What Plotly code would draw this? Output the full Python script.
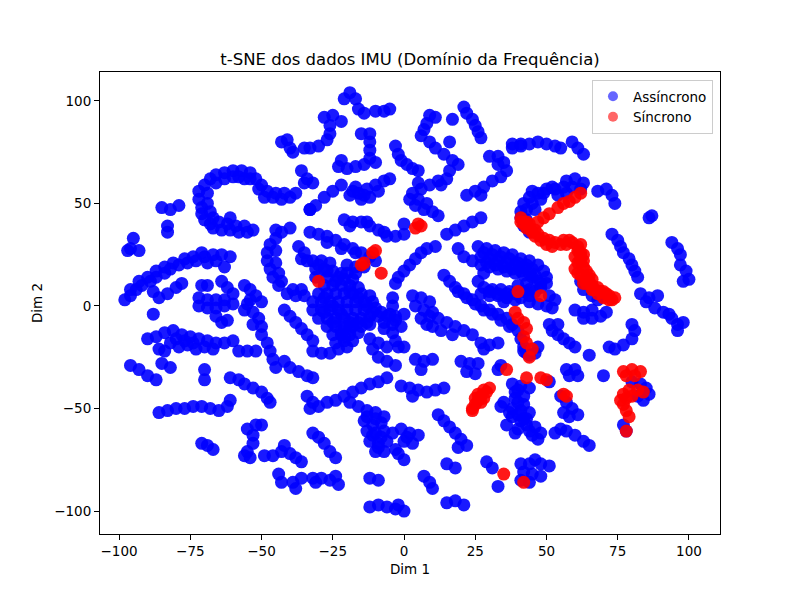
import plotly.graph_objects as go

# t-SNE coordinates, grouped by region (Dim 1, Dim 2)
assinc_noroeste = [
    (-43, 80), (-41, 81), (-40, 77), (-39, 75), (-35, 77), (-33, 77),
    (-36, 66), (-34, 62), (-32, 60), (-35, 60),
    (-72, 56), (-72, 52), (-71, 48), (-71, 45), (-70, 42), (-68, 40), (-67, 38), (-64, 37),
    (-61, 37), (-58, 36), (-55, 36), (-53, 37), (-68, 62), (-70, 59), (-66, 64), (-63, 65),
    (-60, 66), (-57, 66), (-54, 65), (-52, 62), (-50, 59), (-48, 56), (-46, 53), (-43, 52),
    (-40, 53), (-38, 55), (-61, 43), (-60, 63), (-56, 62),
    (-85, 48), (-82, 47), (-79, 49), (-83, 39), (-83, 36),
    (-95, 33), (-96, 28), (-93, 27), (-97, 27),
    (-98, 3), (-96, 5), (-94, 8), (-92, 10), (-89, 12), (-87, 14), (-84, 16), (-82, 18),
    (-79, 20), (-76, 21), (-73, 22), (-70, 24), (-67, 25), (-64, 25), (-61, 24), (-63, 19),
    (-88, 7), (-86, 4), (-83, 6), (-80, 9), (-78, 11), (-71, 10), (-69, 10),
    (-64, 12), (-62, 9), (-60, 6), (-63, 3), (-56, 10), (-54, 8), (-52, 5), (-50, 2), (-54, 3),
    (-40, 38), (-43, 36), (-45, 33), (-47, 30), (-48, 26), (-48, 22), (-47, 18), (-46, 14),
    (-44, 10), (-41, 6), (-38, 5), (-35, 5), (-37, 29), (-35, 26), (-34, 22), (-36, 23),
    (-33, 47),
]

assinc_norte = [
    (-21, 101), (-19, 104), (-17, 101), (-16, 96), (-14, 94), (-10, 95), (-7, 95), (-5, 96),
    (-28, 92), (-25, 93), (-22, 90), (-26, 88), (-26, 84), (-27, 81), (-30, 78),
    (-15, 84), (-12, 84), (-12, 80), (-12, 76), (-12, 72), (-10, 70), (-14, 69), (-17, 68),
    (-20, 67), (-23, 68), (-22, 71),
    (-3, 78), (-2, 74), (-1, 71), (1, 69), (3, 67), (5, 66),
    (9, 93), (8, 89), (7, 86), (6, 83), (11, 92), (17, 91),
    (21, 97), (22, 94), (24, 91), (25, 88), (26, 85), (27, 82),
    (9, 80), (11, 77), (14, 74), (17, 71), (19, 69), (16, 66), (16, 80),
    (30, 73), (33, 73), (35, 70), (36, 66), (34, 63), (31, 61), (28, 58), (33, 69),
    (38, 77), (41, 78),
    (-22, 59), (-25, 56), (-28, 53), (-31, 49), (-33, 47),
    (-19, 54), (-16, 55), (-13, 57), (-10, 59), (-7, 61), (-5, 62), (-15, 52), (-12, 53), (-17, 58),
    (15, 62), (12, 61), (9, 59), (6, 57), (3, 55), (2, 52), (4, 49), (7, 47), (10, 46), (12, 44),
    (22, 54), (25, 56), (27, 54),
    (-21, 42), (-18, 41), (-15, 41), (-12, 39), (-9, 37), (-6, 34), (-3, 34), (0, 35), (0, 40),
    (15, 35), (18, 37), (21, 39), (24, 41), (27, 43),
    (-33, 36), (-30, 35), (-27, 34), (-24, 32), (-21, 30), (-18, 28), (-15, 26), (-12, 24), (-10, 22),
    (11, 29), (8, 28), (6, 26), (4, 23), (2, 20), (0, 17), (-2, 14), (-3, 11),
    (19, 28), (21, 24), (24, 22),
]

assinc_centro = [
    (-32, 22), (-29, 22), (-26, 21), (-20, 20), (-17, 19), (-14, 19),
    (-31, 18), (-28, 18), (-25, 17), (-22, 16),
    (-31, 14), (-27, 14), (-23, 14), (-18, 13),
    (-28, 10), (-25, 10), (-22, 10), (-19, 10), (-16, 9),
    (-30, 6), (-27, 6), (-24, 6), (-21, 6), (-18, 6), (-15, 6), (-12, 5),
    (-32, 2), (-29, 2), (-26, 2), (-23, 2), (-20, 2), (-17, 2), (-14, 2), (-11, 2),
    (-32, -2), (-29, -2), (-26, -2), (-23, -2), (-20, -2), (-17, -2), (-14, -2), (-11, -3), (-8, -3),
    (-30, -6), (-27, -6), (-24, -6), (-21, -6), (-18, -6), (-15, -6), (-12, -5), (-9, -5), (-6, -5),
    (-3, -5), (0, -4),
    (-27, -10), (-24, -10), (-21, -10), (-18, -10), (-15, -10), (-12, -9),
    (-25, -14), (-22, -14), (-19, -14), (-16, -13), (-24, -18), (-21, -17), (-18, -17),
    (-4, 4), (-4, 0), (-4, -9), (-4, -13), (-3, -17), (-2, -20), (0, -20),
    (3, 5), (6, 4), (9, 2), (4, 0), (7, -2), (10, -3), (6, -6), (9, -5), (12, -6), (15, -8),
    (18, -10), (21, -12), (24, -14), (10, -10), (13, -12), (17, -14), (8, -9),
    (27, -18), (30, -19), (33, -18), (28, -21),
    (14, 15), (16, 12), (18, 9), (21, 6), (24, 3), (27, 0), (30, -2), (33, -4), (36, -6),
    (38, -9), (40, -12), (41, -16), (42, -20), (43, -23),
    (19, 7), (22, 4), (25, 1), (28, -2), (31, -4), (34, -7), (37, -10),
]

assinc_onda = [
    (26, 29), (29, 28), (32, 27), (35, 26), (38, 25), (41, 23), (44, 22), (47, 20), (49, 17),
    (50, 14), (50, 11), (48, 9), (46, 7), (44, 5),
    (27, 24), (30, 23), (33, 22), (36, 21), (39, 20), (42, 19), (45, 18),
    (27, 20), (30, 19), (33, 18), (36, 17), (39, 16), (42, 15), (45, 14), (47, 12),
    (28, 16), (26, 12), (28, 9), (31, 8), (34, 8), (37, 7), (40, 10), (43, 11), (44, 8),
    (27, 6), (30, 5), (33, 5), (36, 4), (39, 3), (44, 2), (47, 1), (50, 0), (52, -1),
    (51, 5), (53, 3),
]

assinc_sudoeste = [
    (-72, 0), (-69, -1), (-66, -1), (-63, 0), (-60, 1), (-66, -5), (-64, -8), (-62, -7),
    (-72, 4), (-69, 3), (-66, 3),
    (-56, -2), (-55, 1), (-53, -3), (-51, -6), (-53, -9), (-50, -10),
    (-42, -2), (-40, -5), (-38, -8), (-36, -11), (-34, -14), (-32, -17), (-88, -4),
    (-90, -16), (-87, -15), (-84, -13), (-81, -12), (-78, -14), (-75, -15), (-72, -16), (-69, -17),
    (-66, -18), (-63, -18), (-60, -17), (-82, -18), (-79, -20), (-76, -19), (-73, -21), (-84, -22),
    (-58, -22), (-55, -22), (-52, -22),
    (-50, -14), (-48, -18), (-47, -22), (-46, -26), (-45, -30),
    (-42, -27), (-40, -30), (-37, -32), (-34, -34), (-32, -35),
    (-96, -29), (-93, -31), (-90, -34), (-87, -36), (-86, -21), (-85, -28), (-82, -30),
    (-70, -31), (-70, -36),
    (-61, -35), (-58, -36), (-56, -38), (-53, -40), (-50, -42), (-48, -45), (-47, -47),
    (-86, -52), (-83, -51), (-80, -50), (-77, -50), (-74, -49), (-71, -49), (-68, -50), (-65, -51),
    (-62, -49), (-61, -46),
    (-55, -60), (-52, -58), (-50, -58), (-53, -63), (-53, -67), (-55, -71), (-54, -74), (-56, -73),
    (-49, -73), (-46, -73), (-43, -71), (-40, -72), (-38, -74), (-36, -76), (-42, -68),
    (-71, -67), (-69, -68), (-67, -70),
    (-44, -82), (-43, -86), (-39, -86), (-38, -89), (-36, -84),
    (-34, -44), (-32, -47), (-31, -86),
]

assinc_sul = [
    (-7, -8), (-5, -4), (-3, -7), (-1, -10), (-7, -11),
    (20, -27), (23, -28), (26, -28), (22, -32), (25, -33),
    (4, -26), (7, -27), (10, -26), (6, -31),
    (-1, -39), (2, -40), (5, -41), (8, -42), (11, -41), (14, -40), (3, -44),
    (-32, -22), (-29, -23), (-26, -23), (-23, -21), (-20, -20),
    (-12, -16), (-9, -18), (-6, -20), (-11, -21), (-9, -25), (-6, -27), (-3, -29),
    (-6, -35), (-9, -37), (-12, -38), (-15, -40), (-18, -42), (-21, -44), (-24, -46), (-27, -47),
    (-30, -49), (-33, -50),
    (-19, -47), (-16, -49), (-13, -51), (-10, -52), (-7, -54), (-14, -56), (-11, -58), (-8, -57),
    (-13, -61), (-10, -62), (-7, -61), (-12, -66), (-9, -67), (-6, -66), (-10, -71), (-7, -71),
    (-1, -60), (2, -62), (5, -63), (3, -67), (0, -66), (-2, -72), (0, -75), (-3, -70),
    (-32, -62), (-30, -64), (-28, -67), (-26, -71), (-24, -74),
    (-32, -84), (-29, -84), (-26, -85), (-23, -87), (-24, -83),
    (-12, -84), (-9, -85),
    (-12, -98), (-9, -97), (-6, -98), (-3, -99), (0, -100), (-2, -97),
    (7, -83), (9, -86), (10, -89), (15, -96), (18, -95), (21, -97), (15, -77), (18, -79),
    (12, -53), (14, -56), (16, -59), (18, -62), (20, -65), (22, -68), (19, -69),
    (34, -29), (33, -31), (29, -76), (31, -79), (33, -88),
]

assinc_leste = [
    (38, 79), (41, 79), (44, 79), (47, 80), (50, 79), (53, 78), (55, 77),
    (59, 80), (61, 77), (63, 74),
    (41, 46), (41, 43), (42, 39), (44, 36), (42, 50), (44, 53), (47, 55), (50, 57), (53, 57),
    (56, 58), (59, 58), (62, 57), (45, 50), (48, 52), (54, 54), (57, 55), (57, 61), (60, 62),
    (63, 60), (46, 47),
    (68, 56), (71, 57), (73, 54), (74, 50), (87, 44), (86, 43),
    (73, 35), (75, 32), (76, 29), (77, 26), (79, 23), (80, 20), (81, 17), (82, 14),
    (94, 31), (96, 28), (97, 25), (97, 20), (99, 17), (100, 13), (98, 12),
    (83, 6), (86, 4), (89, 5), (63, 8), (66, 5), (68, 3), (62, 12),
    (52, -12), (54, -14), (56, -16), (58, -18), (60, -20), (54, -9), (51, -9),
    (60, -2), (63, -3), (66, -6), (69, -5), (71, -3), (63, -6), (66, -2), (65, -24),
    (80, -9), (81, -12), (80, -16), (77, -19), (74, -21), (72, -20),
    (85, 2), (88, -1), (91, -3), (94, -6), (96, -9), (98, -8), (96, -12), (93, -4),
    (70, -34), (57, -31), (60, -31), (58, -34), (61, -34), (51, -37),
    (42, -22), (44, -24), (46, -23), (47, -20),
    (38, -38), (41, -39), (44, -40), (39, -42), (42, -44), (40, -47), (38, -50), (41, -51),
    (44, -52), (38, -54), (41, -56), (43, -58), (46, -59), (48, -62), (45, -63), (40, -60),
    (36, -58), (35, -47), (34, -49), (37, -52), (42, -55), (39, -62),
    (55, -44), (57, -47), (59, -50), (61, -53), (56, -52), (58, -54),
    (53, -62), (55, -60), (57, -61), (60, -63), (63, -66), (65, -68),
    (80, -37), (83, -38), (85, -40), (86, -43), (82, -44), (84, -46), (77, -58), (78, -61),
    (41, -77), (44, -77), (46, -75), (48, -77), (51, -78), (42, -81), (45, -82), (48, -83),
    (44, -86), (41, -85),
]

# second rows where the clusters in the reference are thicker
assinc_extra = [
    (-69, 55), (-69, 50), (-68, 46), (-67, 43), (-65, 41), (-62, 40), (-59, 39), (-56, 39),
    (-66, 60), (-63, 62), (-58, 63), (-54, 62), (-51, 57), (-49, 53), (-45, 55), (-42, 55),
    (-96, 8), (-93, 12), (-90, 14), (-87, 17), (-84, 19), (-81, 21), (-77, 23), (-74, 24),
    (-71, 26), (-66, 22), (-69, 21),
    (-45, 37), (-45, 27), (-45, 21), (-44, 16), (-43, 12), (-39, 8), (-36, 8),
    (-30, 20), (-27, 17), (-24, 12), (-21, 13), (-19, 7), (-16, 4), (-13, 0), (-10, -1),
    (-28, 4), (-25, 0), (-22, -4), (-19, -8), (-16, -8), (-13, -8), (-25, -8), (-22, -12),
    (-19, -11), (-28, -3), (-21, -15), (-20, 16), (-17, 16),
    (28, 26), (31, 25), (34, 24), (37, 23), (40, 21), (43, 20), (29, 21), (32, 20), (35, 19),
    (38, 18), (41, 17), (44, 16), (46, 15), (48, 11), (30, 7), (33, 6), (36, 6), (39, 6),
    (42, 7), (35, 2), (41, 4),
    (-27, 31), (-22, 28), (-17, 26), (-19, 39), (-13, 41), (-7, 36),
    (-14, 54), (-9, 56), (-18, 56), (5, 52), (8, 50), (13, 59), (5, 60),
    (45, 56), (49, 55), (52, 58), (43, 47), (43, 42),
    (-13, -54), (-10, -55), (-11, -63), (-8, -64), (-9, -69), (1, -64), (-4, -62),
    (-80, -16), (-77, -17), (-74, -18), (-70, -20), (-67, -21),
    (40, -53), (43, -55), (39, -45), (42, -48), (40, -41), (44, -61), (47, -65),
]

sinc_pontos = [
    (5, 40), (6, 39), (4, 38),
    (-11, 26), (-10, 27), (-15, 20), (-14, 21), (-8, 16), (-30, 12),
    (41, 43), (42, 40), (43, 38), (45, 36), (46, 34), (48, 32), (50, 30), (52, 29), (55, 30),
    (57, 30), (59, 31), (47, 41), (49, 43), (51, 45), (54, 48), (56, 50), (58, 51), (60, 53),
    (62, 55), (44, 38), (41, 41),
    (43, 41), (44, 40), (46, 37), (47, 35), (49, 33), (51, 32), (53, 31), (56, 32), (58, 32),
    (62, 30), (61, 27), (60, 24), (61, 21), (60, 18), (62, 22), (63, 19), (62, 15), (64, 14),
    (65, 12), (66, 10), (68, 9), (69, 7), (71, 6), (72, 5), (74, 4), (64, 17), (63, 25),
    (66, 13), (67, 8), (70, 4), (73, 3),
    (61, 29), (62, 26), (62, 24), (63, 22), (61, 16), (64, 11), (66, 8), (68, 6), (70, 7),
    (72, 3), (65, 15), (63, 11),
    (40, 7), (48, 5), (39, -3), (40, -6), (42, -8), (43, -11), (42, -15), (43, -18), (45, -21),
    (44, -25),
    (30, -40), (29, -42), (27, -44), (26, -46), (25, -48), (24, -50), (28, -41), (26, -43),
    (28, -45), (25, -45), (27, -47), (24, -51),
    (36, -31), (43, -35), (48, -35), (50, -36), (56, -43), (57, -44),
    (77, -32), (80, -31), (83, -32), (78, -34), (81, -34), (77, -43), (79, -41), (82, -41),
    (84, -42), (76, -46), (78, -45), (80, -44), (77, -48), (78, -51), (79, -54), (78, -61),
    (35, -82), (42, -86),
]

assinc = (assinc_noroeste + assinc_norte + assinc_centro + assinc_onda
          + assinc_sudoeste + assinc_sul + assinc_leste + assinc_extra)

fig = go.Figure()

# the data itself (thousands of overlapping points in the original, so drawn nearly opaque)
fig.add_trace(go.Scatter(x=[p[0] for p in assinc], y=[p[1] for p in assinc], mode='markers',
                         marker=dict(color='blue', size=13, opacity=0.9, line=dict(width=0)),
                         showlegend=False))
fig.add_trace(go.Scatter(x=[p[0] for p in sinc_pontos], y=[p[1] for p in sinc_pontos], mode='markers',
                         marker=dict(color='red', size=13, opacity=0.9, line=dict(width=0)),
                         showlegend=False))

# legend entries with alpha 0.6 like the original
fig.add_trace(go.Scatter(x=[None], y=[None], mode='markers', name='Assíncrono',
                         marker=dict(color='blue', size=10, opacity=0.6)))
fig.add_trace(go.Scatter(x=[None], y=[None], mode='markers', name='Síncrono',
                         marker=dict(color='red', size=10, opacity=0.6)))

eixo = dict(showline=True, mirror=True, linecolor='black', linewidth=1, showgrid=False,
            zeroline=False, ticks='outside', ticklen=5, tickwidth=1, tickcolor='black',
            tickfont=dict(size=13.5, color='black'))

# margins are 8px smaller on top/left because the page body adds an 8px offset
fig.update_layout(
    width=800, height=600,
    font=dict(family='DejaVu Sans', color='black'),
    paper_bgcolor='white', plot_bgcolor='white',
    margin=dict(l=92, r=88, t=64, b=74),
    title=dict(text='t-SNE dos dados IMU (Domínio da Frequência)', x=0.5, xref='paper',
               y=1, yref='paper', yanchor='bottom', pad=dict(b=7),
               font=dict(size=16.5, color='black')),
    xaxis=dict(eixo, range=[-106.7, 110.9], tickvals=[-100, -75, -50, -25, 0, 25, 50, 75, 100],
               title=dict(text='Dim 1', standoff=6, font=dict(size=13.5))),
    yaxis=dict(eixo, range=[-111.2, 114.1], tickvals=[-100, -50, 0, 50, 100],
               title=dict(text='Dim 2', standoff=8, font=dict(size=13.5))),
    legend=dict(x=0.9887, y=0.9827, xanchor='right', yanchor='top',
                bgcolor='rgba(255,255,255,0.8)', bordercolor='#cccccc', borderwidth=1,
                font=dict(size=13.5), itemwidth=30, tracegroupgap=0),
)

fig.write_html('out.html')
